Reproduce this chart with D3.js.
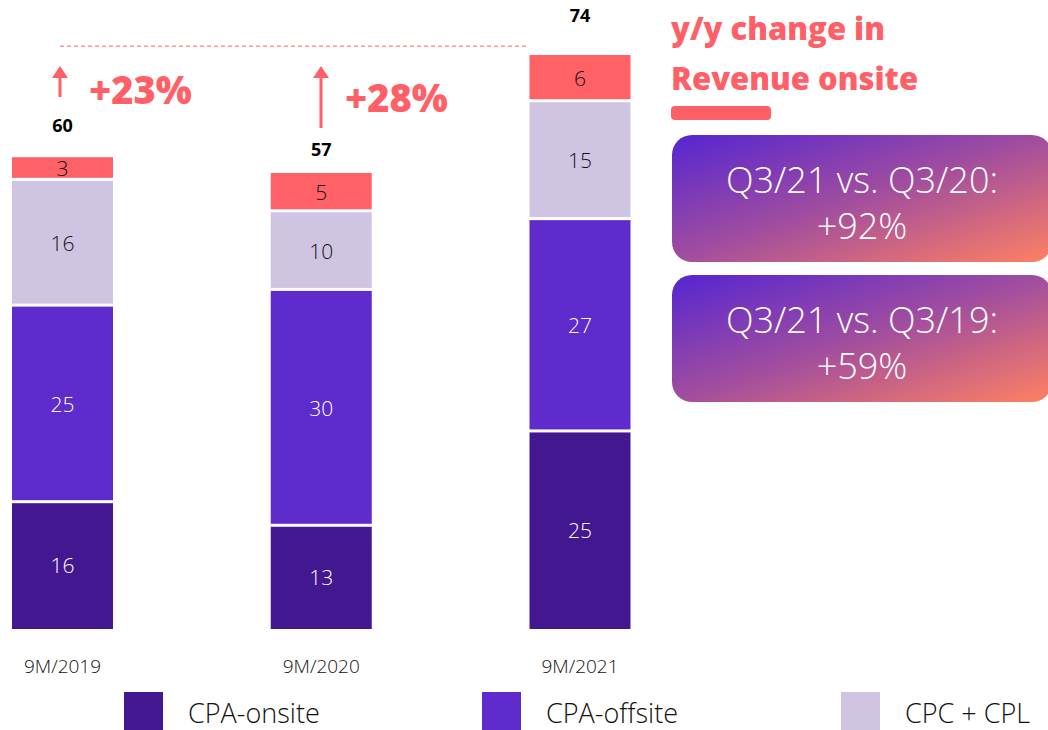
<!DOCTYPE html>
<html>
<head>
<meta charset="utf-8">
<script src="https://cdn.jsdelivr.net/npm/d3@7"></script>
<style>
  html, body { margin: 0; padding: 0; background: #fff; }
  svg { display: block; font-family: "Open Sans", Lato, sans-serif; }
</style>
</head>
<body>
<svg id="chart" width="1048" height="730"></svg>
<script>
// Revenue by business line, stacked per period
const periods = ["9M/2019", "9M/2020", "9M/2021"];
const cpaOnsite = [16, 13, 25];
const cpaOffsite = [25, 30, 27];
const cpcCpl = [16, 10, 15];
const other = [3, 5, 6];
const totals = [60, 57, 74];
const growth = ["+23%", "+28%"];

const seriesNames = ["CPA-onsite", "CPA-offsite", "CPC + CPL", "Other"];
const seriesColors = ["#43178f", "#5f2bcc", "#cfc5e2", "#ff6167"];
const labelColors = ["#ffffff", "#ffffff", "#111111", "#111111"];
const legendNames = ["CPA-onsite", "CPA-offsite", "CPC + CPL"];

const comparisons = [
  ["Q3/21 vs. Q3/20:", "+92%"],
  ["Q3/21 vs. Q3/19:", "+59%"]
];

const rows = periods.map((p, i) => ({
  period: p,
  "CPA-onsite": cpaOnsite[i],
  "CPA-offsite": cpaOffsite[i],
  "CPC + CPL": cpcCpl[i],
  "Other": other[i]
}));

const svg = d3.select("#chart");
const red = "#ff5f66";

const x = d3.scalePoint().domain(periods).range([62.5, 580]);
const y = d3.scaleLinear().domain([0, 80]).range([629, 0]);
const barW = 101;
const gap = 3;

const stack = d3.stack().keys(seriesNames);
const layers = stack(rows);

// gradient for comparison boxes
const defs = svg.append("defs");
const grad = defs.append("linearGradient")
  .attr("id", "boxGrad")
  .attr("x1", "0%").attr("y1", "0%")
  .attr("x2", "100%").attr("y2", "100%");
grad.append("stop").attr("offset", "0%").attr("stop-color", "#5525d2");
grad.append("stop").attr("offset", "50%").attr("stop-color", "#a24e9e");
grad.append("stop").attr("offset", "100%").attr("stop-color", "#ff8162");

// stacked bars
layers.forEach((layer, si) => {
  const g = svg.append("g");
  g.selectAll("rect")
    .data(layer)
    .join("rect")
    .attr("x", d => x(d.data.period) - barW / 2)
    .attr("y", d => y(d[1]))
    .attr("width", barW)
    .attr("height", d => y(d[0]) - y(d[1]) - (d[0] > 0 ? gap : 0))
    .attr("fill", seriesColors[si]);
  g.selectAll("text")
    .data(layer)
    .join("text")
    .attr("x", d => x(d.data.period))
    .attr("y", d => (y(d[0]) + y(d[1])) / 2 + 7)
    .attr("text-anchor", "middle")
    .attr("font-size", 21)
    .attr("font-weight", 300)
    .attr("fill", labelColors[si])
    .text(d => d[1] - d[0]);
});

// totals above bars
svg.append("g").selectAll("text")
  .data(periods)
  .join("text")
  .attr("x", (p) => x(p))
  .attr("y", (p, i) => y(totals[i]) - 25)
  .attr("text-anchor", "middle")
  .attr("font-size", 18)
  .attr("font-weight", 700)
  .attr("fill", "#000")
  .text((p, i) => totals[i]);

// dashed reference line at the latest total
svg.append("line")
  .attr("x1", 60).attr("x2", 528)
  .attr("y1", y(totals[2]) - 1).attr("y2", y(totals[2]) - 1)
  .attr("stroke", red)
  .attr("stroke-width", 1)
  .attr("stroke-dasharray", "4,3");

// growth arrows and labels
const arrows = [
  { px: 60, y0: 97, tx: 89, ty: 104 },
  { px: 321, y0: 128, tx: 345, ty: 112 }
];
arrows.forEach((a, i) => {
  svg.append("line")
    .attr("x1", a.px).attr("x2", a.px)
    .attr("y1", a.y0).attr("y2", 76)
    .attr("stroke", red).attr("stroke-width", 3);
  svg.append("path")
    .attr("d", `M${a.px - 8},78 L${a.px},66 L${a.px + 8},78 Z`)
    .attr("fill", red);
  svg.append("text")
    .attr("x", a.tx).attr("y", a.ty)
    .attr("font-size", 38)
    .attr("font-weight", 800)
    .attr("fill", red)
    .text(growth[i]);
});

// side heading
svg.append("text")
  .attr("x", 671).attr("y", 40)
  .attr("font-size", 31).attr("font-weight", 800)
  .attr("fill", red)
  .text("y/y change in");
svg.append("text")
  .attr("x", 671).attr("y", 90)
  .attr("font-size", 31).attr("font-weight", 800)
  .attr("fill", red)
  .text("Revenue onsite");
svg.append("rect")
  .attr("x", 671).attr("y", 106)
  .attr("width", 100).attr("height", 14)
  .attr("rx", 4)
  .attr("fill", red);

// comparison boxes
const boxes = [{ y: 135 }, { y: 275 }];
boxes.forEach((b, i) => {
  svg.append("rect")
    .attr("x", 672).attr("y", b.y)
    .attr("width", 380).attr("height", 127)
    .attr("rx", 20)
    .attr("fill", "url(#boxGrad)");
  svg.append("text")
    .attr("x", 862).attr("y", b.y + 58)
    .attr("text-anchor", "middle")
    .attr("font-size", 36).attr("font-weight", 300)
    .attr("fill", "#fff")
    .text(comparisons[i][0]);
  svg.append("text")
    .attr("x", 862).attr("y", b.y + 104)
    .attr("text-anchor", "middle")
    .attr("font-size", 36).attr("font-weight", 300)
    .attr("fill", "#fff")
    .text(comparisons[i][1]);
});

// category labels
svg.append("g").selectAll("text")
  .data(periods)
  .join("text")
  .attr("x", p => x(p))
  .attr("y", 673)
  .attr("text-anchor", "middle")
  .attr("font-size", 19)
  .attr("font-weight", 300)
  .attr("fill", "#111")
  .text(p => p);

// legend
const legendX = [124, 482, 841];
legendNames.forEach((name, i) => {
  svg.append("rect")
    .attr("x", legendX[i]).attr("y", 692)
    .attr("width", 39).attr("height", 38)
    .attr("fill", seriesColors[i]);
  svg.append("text")
    .attr("x", legendX[i] + 64).attr("y", 723)
    .attr("font-size", 27).attr("font-weight", 300)
    .attr("fill", "#111")
    .text(name);
});
</script>
</body>
</html>
